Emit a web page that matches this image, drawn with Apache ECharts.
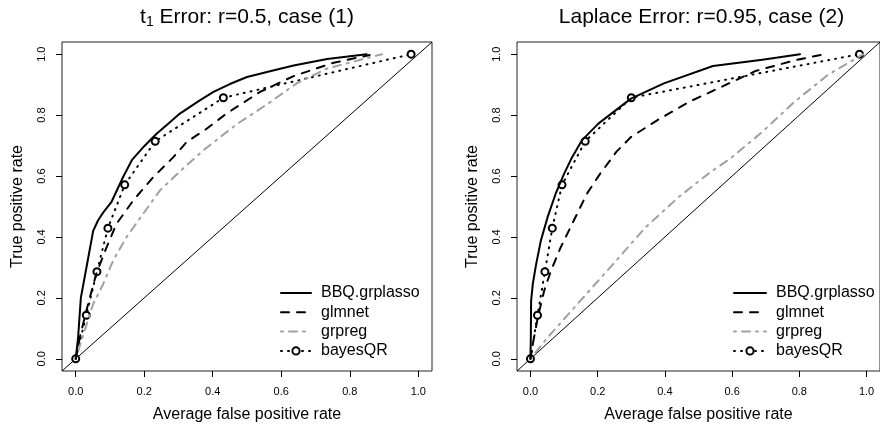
<!DOCTYPE html>
<html><head><meta charset="utf-8">
<script src="https://cdn.jsdelivr.net/npm/echarts@6/dist/echarts.min.js"></script>
<style>html,body{margin:0;padding:0;background:#fff}#c{width:880px;height:430px}</style>
</head><body><div id="c"></div>
<script>
// ---- data ----
const seriesNames = ['BBQ.grplasso', 'glmnet', 'grpreg', 'bayesQR'];
const tickValues = [0, 0.2, 0.4, 0.6, 0.8, 1.0];
const diagX = [-0.04, 1.04];
const diagY = [-0.04, 1.04];

// Panel 1: t1 Error, r=0.5, case (1)
const bbqX1 = [0, 0.007, 0.015, 0.026, 0.051, 0.065, 0.08, 0.104, 0.138, 0.165, 0.2, 0.236, 0.27, 0.304, 0.36, 0.402, 0.45, 0.5, 0.57, 0.636, 0.734, 0.849];
const bbqY1 = [0, 0.07, 0.2, 0.267, 0.42, 0.454, 0.48, 0.514, 0.596, 0.654, 0.698, 0.739, 0.772, 0.805, 0.847, 0.876, 0.902, 0.925, 0.945, 0.963, 0.984, 1.0];
const glmX1 = [0, 0.012, 0.031, 0.06, 0.09, 0.119, 0.168, 0.226, 0.285, 0.324, 0.382, 0.44, 0.538, 0.636, 0.753, 0.858];
const glmY1 = [0, 0.07, 0.158, 0.279, 0.366, 0.443, 0.52, 0.596, 0.662, 0.712, 0.755, 0.805, 0.876, 0.928, 0.972, 0.997];
const grpX1 = [0, 0.026, 0.051, 0.08, 0.109, 0.148, 0.197, 0.246, 0.304, 0.373, 0.47, 0.558, 0.646, 0.734, 0.894];
const grpY1 = [0, 0.092, 0.18, 0.245, 0.322, 0.399, 0.476, 0.553, 0.615, 0.685, 0.77, 0.835, 0.905, 0.953, 1.0];
const bqrX1 = [0, 0.031, 0.062, 0.094, 0.143, 0.232, 0.431, 0.979];
const bqrY1 = [0, 0.143, 0.286, 0.429, 0.571, 0.714, 0.857, 1.0];

// Panel 2: Laplace Error, r=0.95, case (2)
const bbqX2 = [0, 0.001, 0.002, 0.007, 0.017, 0.031, 0.051, 0.075, 0.1, 0.124, 0.153, 0.202, 0.299, 0.397, 0.543, 0.69, 0.802];
const bbqY2 = [0, 0.06, 0.19, 0.246, 0.311, 0.388, 0.465, 0.542, 0.607, 0.662, 0.717, 0.772, 0.854, 0.904, 0.961, 0.982, 1.0];
const glmX2 = [0, 0.007, 0.022, 0.041, 0.061, 0.09, 0.129, 0.168, 0.207, 0.256, 0.299, 0.377, 0.475, 0.573, 0.67, 0.787, 0.875];
const glmY2 = [0, 0.048, 0.136, 0.224, 0.289, 0.366, 0.454, 0.542, 0.607, 0.68, 0.728, 0.783, 0.845, 0.895, 0.945, 0.98, 1.0];
const grpX2 = [0, 0.051, 0.148, 0.246, 0.343, 0.441, 0.538, 0.592, 0.69, 0.787, 0.885, 0.99];
const grpY2 = [0, 0.07, 0.19, 0.311, 0.432, 0.531, 0.615, 0.655, 0.745, 0.845, 0.932, 1.0];
const bqrX2 = [0, 0.021, 0.043, 0.065, 0.094, 0.163, 0.30, 0.979];
const bqrY2 = [0, 0.143, 0.286, 0.429, 0.571, 0.714, 0.857, 1.0];

const titles = ['{n|t}{s|1}{n| Error: r=0.5, case (1)}', '{n|Laplace Error: r=0.95, case (2)}'];
const xName = 'Average false positive rate';
const yName = 'True positive rate';

// ---- chart ----
const FONT = '"Liberation Sans", Arial, Helvetica, sans-serif';
const pts = (xs, ys) => xs.map((x, i) => [x, ys[i]]);
const styles = [
  { color: '#000', lineStyle: { color: '#000', width: 2, type: 'solid', cap: 'round', join: 'round' }, symbol: 'none' },
  { color: '#000', lineStyle: { color: '#000', width: 2, type: [8, 8], cap: 'round', join: 'round' }, symbol: 'none' },
  { color: '#a0a0a0', lineStyle: { color: '#a0a0a0', width: 2, type: [2, 6, 8, 6], cap: 'round', join: 'round' }, symbol: 'none' },
  { color: '#000', lineStyle: { color: '#000', width: 2, type: [1, 6], cap: 'round', join: 'round' }, symbol: 'circle', symbolSize: 7,
    itemStyle: { color: '#fff', borderColor: '#000', borderWidth: 2 } }
];
const panels = [
  [[bbqX1, bbqY1], [glmX1, glmY1], [grpX1, grpY1], [bqrX1, bqrY1]],
  [[bbqX2, bbqY2], [glmX2, glmY2], [grpX2, grpY2], [bqrX2, bqrY2]]
];
const gridPos = [{ left: 62, top: 42, width: 370, height: 329 }, { left: 517, top: 42, width: 369, height: 329 }];
const titleCenters = [247, 701.5];
const legendLeft = [280, 733];
const legendIconW = [30, 32];

const series = [];
panels.forEach((p, g) => {
  series.push({ type: 'line', name: 'diag', xAxisIndex: g, yAxisIndex: g, data: pts(diagX, diagY), symbol: 'none',
    lineStyle: { color: '#000', width: 1 }, silent: true, z: 1 });
  p.forEach((d, k) => {
    const s = styles[k];
    series.push(Object.assign({
      type: 'line', name: seriesNames[k], xAxisIndex: g, yAxisIndex: g, data: pts(d[0], d[1]),
      showSymbol: s.symbol !== 'none', z: 2 + (3 - k)
    }, JSON.parse(JSON.stringify(s))));
  });
});

const axisCommon = (name, isY) => ({
  type: 'value', min: -0.04, max: 1.04, name: name, nameLocation: 'middle', nameGap: 36,
  nameTextStyle: { fontSize: 16, color: '#000', fontFamily: FONT },
  axisLine: { show: false, onZero: false }, splitLine: { show: false },
  axisTick: { show: true, length: 6, inside: false, customValues: tickValues, lineStyle: { color: '#000', width: 1 } },
  axisLabel: { show: true, customValues: tickValues, margin: 15, fontSize: 11, color: '#000', fontFamily: FONT,
    rotate: isY ? 90 : 0, formatter: v => v.toFixed(1) }
});

const legendData = seriesNames.map((n, k) => k < 3 ? { name: n, itemStyle: { opacity: 0 } } : { name: n });

const option = {
  animation: false,
  backgroundColor: '#fff',
  title: titles.map((t, i) => ({
    text: t, left: titleCenters[i], top: 5, textAlign: 'center', padding: 0,
    textStyle: { fontSize: 21, fontWeight: 'normal', color: '#000', fontFamily: FONT,
      rich: { n: { fontSize: 21, lineHeight: 24, color: '#000', fontFamily: FONT },
              s: { fontSize: 14, lineHeight: 10, verticalAlign: 'bottom', color: '#000', fontFamily: FONT } } }
  })),
  grid: gridPos.map(p => Object.assign({ show: true, borderColor: '#222', borderWidth: 1, containLabel: false }, p)),
  xAxis: [0, 1].map(g => Object.assign(axisCommon(xName, false), { gridIndex: g })),
  yAxis: [0, 1].map(g => Object.assign(axisCommon(yName, true), { gridIndex: g })),
  legend: [0, 1].map(g => ({
    data: legendData, orient: 'vertical', left: legendLeft[g], top: 285, padding: 0,
    itemWidth: legendIconW[g], itemHeight: 9, itemGap: 3.3, selectedMode: false,
    textStyle: { fontSize: 16, lineHeight: 16, color: '#000', fontFamily: FONT, padding: [0, 0, 0, 5] }
  })),
  series: series
};
const chart = echarts.init(document.getElementById('c'), null, { renderer: 'canvas' });
chart.setOption(option);
</script></body></html>
